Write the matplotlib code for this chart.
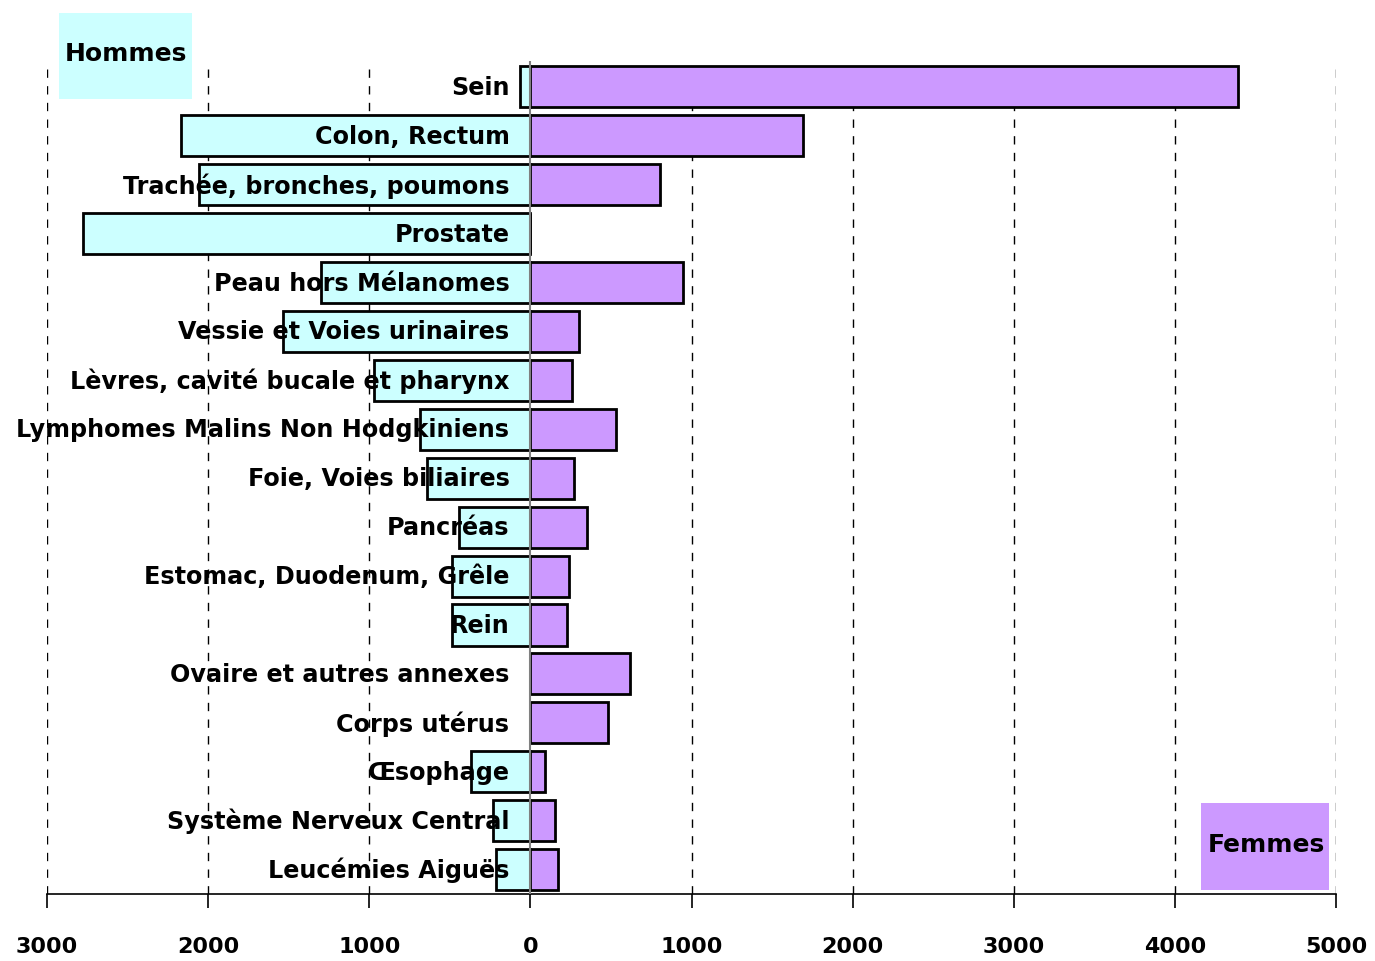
import matplotlib
matplotlib.use("Agg")
import matplotlib.pyplot as plt

categories = ["Sein", "Colon, Rectum", "Trachée, bronches, poumons", "Prostate",
              "Peau hors Mélanomes", "Vessie et Voies urinaires",
              "Lèvres, cavité bucale et pharynx", "Lymphomes Malins Non Hodgkiniens",
              "Foie, Voies biliaires", "Pancréas", "Estomac, Duodenum, Grêle", "Rein",
              "Ovaire et autres annexes", "Corps utérus", "Œsophage",
              "Système Nerveux Central", "Leucémies Aiguës"]
hommes = [62, 2166, 2055, 2775, 1297, 1533, 971, 683, 640, 442, 486, 486, 0, 0, 366, 230, 211]
femmes = [4389, 1695, 807, 0, 950, 302, 257, 531, 272, 350, 241, 226, 621, 483, 91, 150, 169]
xticks = [-3000, -2000, -1000, 0, 1000, 2000, 3000, 4000, 5000]
xticklabels = ["3000", "2000", "1000", "0", "1000", "2000", "3000", "4000", "5000"]

FONT = "DejaVu Sans"
plt.rcParams['font.family'] = [FONT]
plt.rcParams['font.weight'] = 'bold'

fig = plt.figure(figsize=(13.75, 9.62), dpi=100)
ax = fig.add_axes([47/1375, 1-895/962, (1336-47)/1375, (895-62)/962])

ypos = list(range(len(categories)))
ax.barh(ypos, [-h for h in hommes], height=0.84, color="#CCFFFF", edgecolor="black", linewidth=2, zorder=3)
ax.barh(ypos, femmes, height=0.84, color="#CC99FF", edgecolor="black", linewidth=2, zorder=3)
ax.axvline(0, color="#808080", linewidth=1.5, zorder=4)

for y, c in zip(ypos, categories):
    ax.text(-130, y, c, ha="right", va="center", fontsize=17.2, fontweight="bold", zorder=5)

ax.set_xlim(-3000, 5000)
ax.set_ylim(16.5, -0.53)
ax.set_xticks(xticks)
ax.set_xticklabels(xticklabels, fontsize=16, fontweight="bold")
ax.tick_params(axis="x", direction="out", length=10, width=1.2, pad=20)
ax.set_yticks([])
for s in ["top", "left", "right"]:
    ax.spines[s].set_visible(False)
ax.spines["bottom"].set_linewidth(1.2)
for xv in xticks:
    if xv != 0:
        ax.axvline(xv, color="black", linewidth=1, linestyle=(0, (6, 6)), zorder=1)

fig.patches.append(plt.Rectangle((59/1375, 1-100/962), 133/1375, 86/962, transform=fig.transFigure,
                                 facecolor="#CCFFFF", edgecolor="none", zorder=0))
fig.patches.append(plt.Rectangle((1201/1375, 1-891/962), 128/1375, 87/962, transform=fig.transFigure,
                                 facecolor="#CC99FF", edgecolor="none", zorder=0))
fig.text(126/1375, 1-54/962, "Hommes", fontsize=18, fontweight="bold", ha="center", va="center", zorder=6)
fig.text(1266/1375, 1-845/962, "Femmes", fontsize=18, fontweight="bold", ha="center", va="center", zorder=6)

fig.savefig("out.png", dpi=100)
